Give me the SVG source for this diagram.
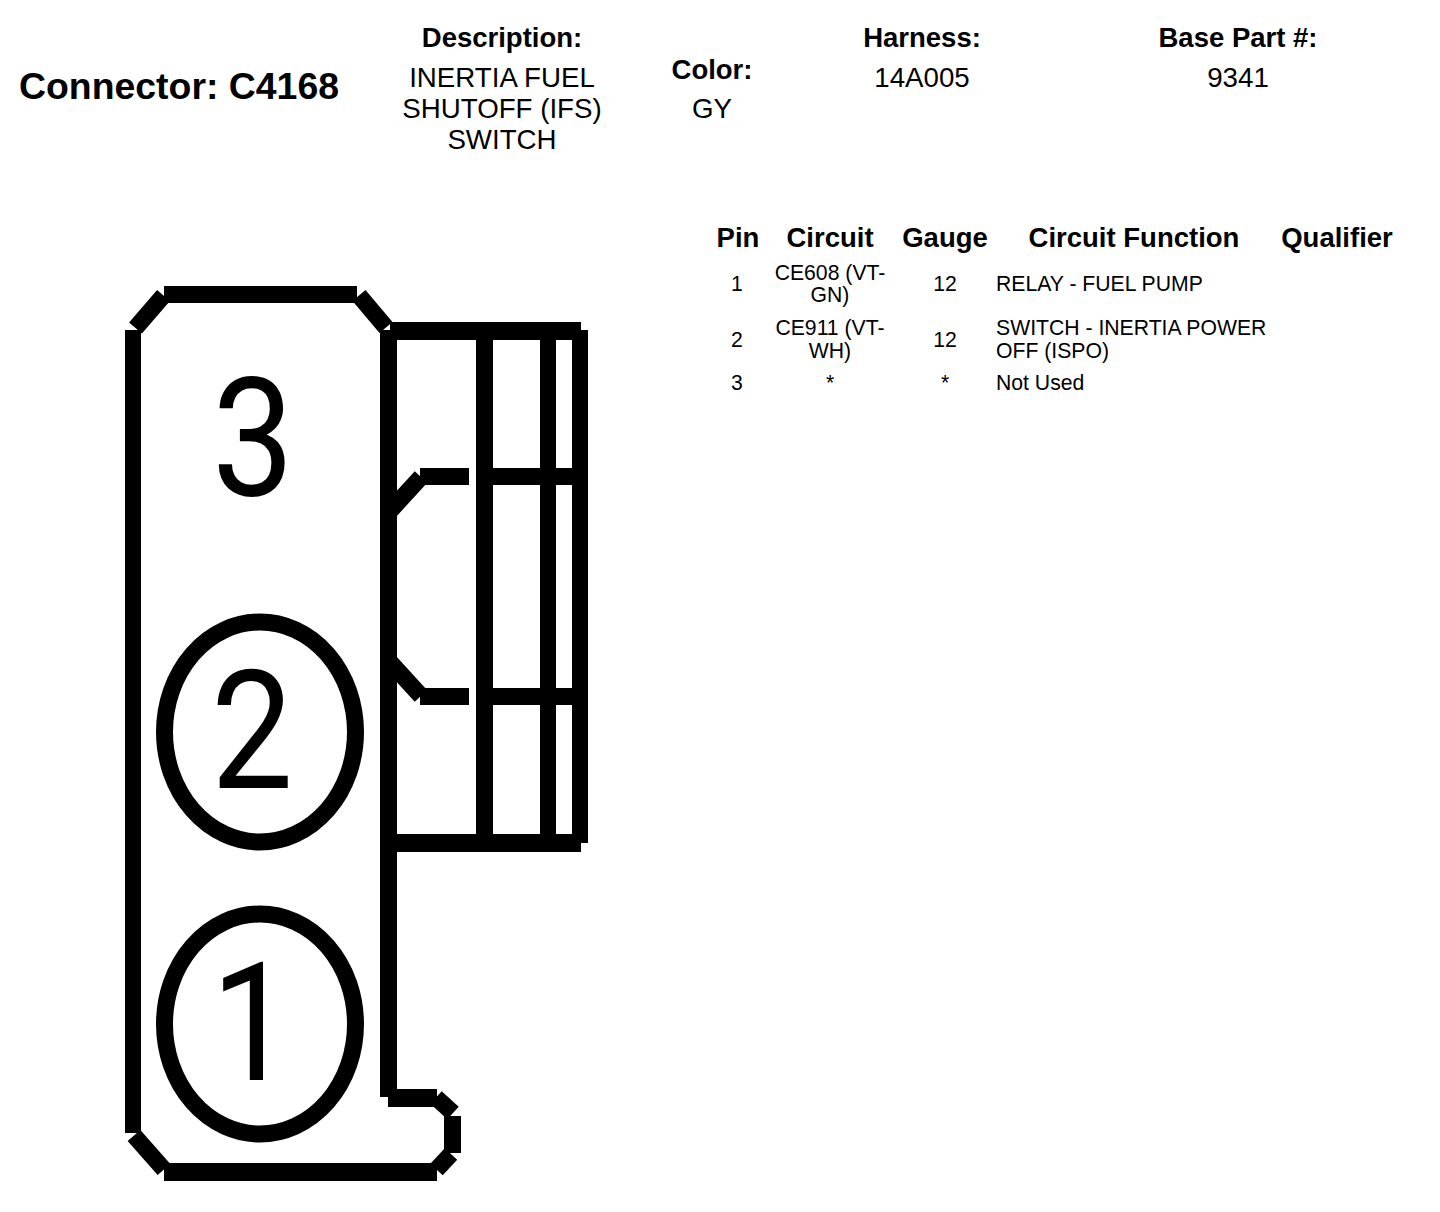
<svg xmlns="http://www.w3.org/2000/svg" width="1440" height="1212" viewBox="0 0 1440 1212">
<style>
text{font-family:"Liberation Sans",Arial,sans-serif;fill:#000;text-anchor:middle}
.h{font-weight:bold;font-size:27.500px}
.v{font-size:27.700px}
.r{font-size:21.200px}
.l{text-anchor:start}
.d{font-family:Roboto,"Liberation Sans",sans-serif;font-weight:400;font-size:166px}
.s{fill:none;stroke:#000;stroke-width:17;shape-rendering:crispEdges}
.t{fill:none;stroke:#000;stroke-width:16;shape-rendering:crispEdges}
.w{fill:none;stroke:#000;stroke-width:18;shape-rendering:crispEdges}
.c{fill:none;stroke:#000;stroke-width:17}
</style>
<rect width="1440" height="1212" fill="#fff"/>
<g id="title"><text x="179" y="99" style="font-weight:bold;font-size:37.400px">Connector: C4168</text></g>
<g id="description"><text class="h" x="502" y="47">Description:</text><text class="v" x="502" y="87">INERTIA FUEL</text><text class="v" x="502" y="118">SHUTOFF (IFS)</text><text class="v" x="502" y="149">SWITCH</text></g>
<g id="color"><text class="h" x="712" y="79">Color:</text><text class="v" x="712" y="118">GY</text></g>
<g id="harness"><text class="h" x="922" y="47">Harness:</text><text class="v" x="922" y="87">14A005</text></g>
<g id="basepart"><text class="h" x="1238" y="47">Base Part #:</text><text class="v" x="1238" y="87">9341</text></g>
<g id="table">
<text class="h" x="738" y="247">Pin</text><text class="h" x="830" y="247">Circuit</text><text class="h" x="945" y="247">Gauge</text><text class="h" x="1134" y="247">Circuit Function</text><text class="h" x="1337" y="247">Qualifier</text>
<text class="r" x="737" y="291">1</text><text class="r" x="830" y="280">CE608 (VT-</text><text class="r" x="830" y="302">GN)</text><text class="r" x="945" y="291">12</text><text class="r l" x="996" y="291">RELAY - FUEL PUMP</text>
<text class="r" x="737" y="347">2</text><text class="r" x="830" y="335">CE911 (VT-</text><text class="r" x="830" y="358">WH)</text><text class="r" x="945" y="347">12</text><text class="r l" x="996" y="335">SWITCH - INERTIA POWER</text><text class="r l" x="996" y="358">OFF (ISPO)</text>
<text class="r" x="737" y="390">3</text><text class="r" x="830" y="390">*</text><text class="r" x="945" y="390">*</text><text class="r l" x="996" y="390">Not Used</text>
</g>
<g id="connector-body">
<path class="t" d="M133 330V1133M580 330V843M548 331V843"/>
<path class="s" d="M164 294.500H357M388.500 330V1097M452.500 1116V1153M484.500 331V843M420 476.500H469M493 476.500H572M420 696.500H469M493 696.500H572"/>
<path class="w" d="M390 331H581M388 843H581M388 1097.500H437M164 1171.500H437"/>
<path class="c" d="M135.500 328L163.500 295.500M359 295.500L386 327.500M389 512L421 477M389 661L421 696M134 1135.500L164 1169.500M436 1097.500L453 1113M451 1154L436.500 1169.500"/>
</g>
<g id="pin-3"><text class="d" transform="translate(253 495) scale(.88 1)">3</text></g>
<g id="pin-2"><ellipse class="c" cx="260" cy="732" rx="95.500" ry="110"/><text class="d" transform="translate(252 788) scale(.88 1)">2</text></g>
<g id="pin-1"><ellipse class="c" cx="260" cy="1024" rx="95.500" ry="110"/><text class="d" transform="translate(252 1080) scale(.88 1)">1</text></g>
</svg>
